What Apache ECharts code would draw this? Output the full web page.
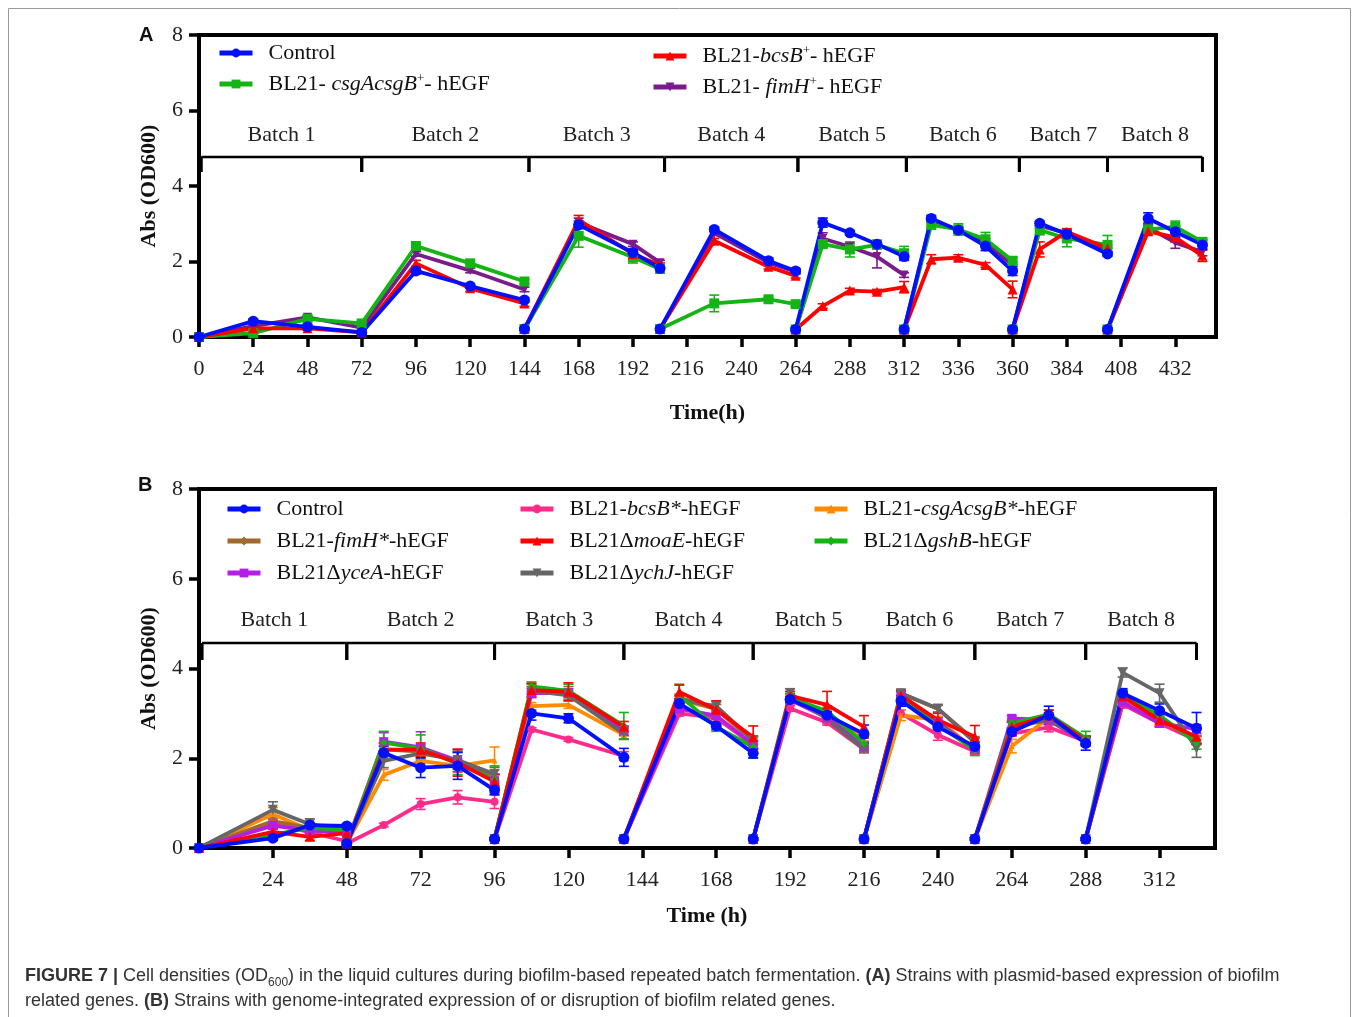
<!DOCTYPE html>
<html>
<head>
<meta charset="utf-8">
<script src="https://cdn.jsdelivr.net/npm/echarts@6/dist/echarts.min.js"></script>
<style>
html,body{margin:0;padding:0;background:#fff;}
#chartBox{width:1358px;height:1017px;}
</style>
</head>
<body>
<div id="chartBox"></div>
<script>
// ---------- panel A : plasmid-based strains ----------
// null = start of a new batch (line break)
const timeA = [0,24,48,72,96,120,144, null, 144,168,192,204, null, 204,228,252,264, null, 264,276,288,300,312, null, 312,324,336,348,360, null, 360,372,384,402, null, 402,420,432,444];
const controlA = [0,0.42,0.27,0.12,1.75,1.35,0.98, null, 0.21,2.97,2.24,1.82, null, 0.21,2.85,2.02,1.75, null, 0.2,3.03,2.76,2.46,2.13, null, 0.2,3.14,2.83,2.41,1.75, null, 0.2,3.01,2.72,2.2, null, 0.2,3.14,2.79,2.44];
const csgA = [0,0.1,0.48,0.36,2.41,1.95,1.47, null, 0.21,2.68,2.11,1.8, null, 0.21,0.89,1.0,0.87, null, 0.2,2.46,2.32,2.44,2.22, null, 0.2,2.97,2.85,2.59,2.02, null, 0.2,2.83,2.61,2.44, null, 0.2,2.85,2.92,2.52];
const bcsA = [0,0.23,0.23,0.12,1.95,1.29,0.89, null, 0.21,3.1,2.2,1.9, null, 0.21,2.55,1.86,1.62, null, 0.2,0.82,1.23,1.2,1.32, null, 0.2,2.06,2.1,1.91,1.26, null, 0.2,2.32,2.79,2.35, null, 0.2,2.8,2.64,2.15];
const fimA = [0,0.29,0.52,0.25,2.2,1.76,1.26, null, 0.21,3.03,2.46,1.97, null, 0.21,2.75,1.97,1.73, null, 0.2,2.61,2.39,2.13,1.64, null, 0.2,3.1,2.83,2.5,1.9, null, 0.2,2.95,2.75,2.3, null, 0.2,2.9,2.5,2.25];
// standard deviations
const controlErrA = [0,0.05,0.05,0.05,0.08,0.06,0.06, null, 0.03,0.1,0.08,0.06, null, 0.03,0.06,0.08,0.06, null, 0.03,0.12,0.06,0.1,0.1, null, 0.03,0.08,0.08,0.12,0.12, null, 0.03,0.06,0.08,0.06, null, 0.03,0.15,0.15,0.12];
const csgErrA = [0,0.05,0.06,0.06,0.08,0.1,0.06, null, 0.03,0.3,0.15,0.06, null, 0.03,0.22,0.05,0.06, null, 0.03,0.08,0.2,0.08,0.18, null, 0.03,0.1,0.15,0.18,0.1, null, 0.03,0.12,0.22,0.25, null, 0.03,0.1,0.15,0.08];
const bcsErrA = [0,0.05,0.05,0.05,0.08,0.08,0.08, null, 0.03,0.12,0.06,0.06, null, 0.03,0.06,0.06,0.06, null, 0.03,0.06,0.06,0.06,0.15, null, 0.03,0.12,0.08,0.06,0.22, null, 0.03,0.2,0.08,0.08, null, 0.03,0.08,0.12,0.15];
const fimErrA = [0,0.04,0.04,0.04,0.06,0.06,0.06, null, 0.03,0.12,0.06,0.06, null, 0.03,0.06,0.06,0.06, null, 0.03,0.15,0.1,0.3,0.06, null, 0.03,0.06,0.06,0.1,0.08, null, 0.03,0.06,0.08,0.06, null, 0.03,0.12,0.15,0.1];
const batchEdgesA = [1, 72, 146, 206, 265, 313, 363, 402, 444];
const xTicksA = [0,24,48,72,96,120,144,168,192,216,240,264,288,312,336,360,384,408,432];

// ---------- panel B : genome-integrated / knockout strains ----------
const timeB = [0,24,36,48, null, 48,60,72,84,96, null, 96,108,120,138, null, 138,156,168,180, null, 180,192,204,216, null, 216,228,240,252, null, 252,264,276,288, null, 288,300,312,324];
const controlB = [0,0.22,0.51,0.49, null, 0.1,2.12,1.79,1.83,1.29, null, 0.2,3.0,2.89,2.02, null, 0.2,3.22,2.72,2.11, null, 0.2,3.31,2.96,2.54, null, 0.2,3.28,2.7,2.26, null, 0.2,2.59,2.96,2.33, null, 0.2,3.45,3.06,2.67];
const bcsB = [0,0.56,0.35,0.15, null, 0.1,0.51,0.98,1.13,1.03, null, 0.2,2.64,2.42,2.05, null, 0.2,3.0,2.9,2.3, null, 0.2,3.11,2.8,2.2, null, 0.2,3.0,2.52,2.15, null, 0.2,2.55,2.69,2.38, null, 0.2,3.2,2.78,2.4];
const csgB = [0,0.75,0.4,0.35, null, 0.1,1.63,1.94,1.83,1.95, null, 0.2,3.16,3.19,2.52, null, 0.2,3.3,3.1,2.35, null, 0.2,3.3,2.95,2.42, null, 0.2,2.96,2.85,2.2, null, 0.2,2.27,2.9,2.38, null, 0.2,3.3,2.85,2.45];
const fimB = [0,0.6,0.45,0.35, null, 0.1,2.2,2.15,1.95,1.6, null, 0.2,3.55,3.5,2.6, null, 0.2,3.35,3.1,2.4, null, 0.2,3.35,2.95,2.3, null, 0.2,3.45,3.1,2.4, null, 0.2,2.7,2.85,2.4, null, 0.2,3.35,2.9,2.4];
const moaB = [0,0.36,0.25,0.33, null, 0.1,2.19,2.19,1.9,1.48, null, 0.2,3.52,3.48,2.7, null, 0.2,3.48,3.08,2.47, null, 0.2,3.39,3.19,2.7, null, 0.2,3.4,2.85,2.48, null, 0.2,2.7,2.95,2.4, null, 0.2,3.38,2.85,2.48];
const gshB = [0,0.3,0.45,0.4, null, 0.1,2.35,2.22,1.88,1.53, null, 0.2,3.6,3.5,2.72, null, 0.2,3.4,2.7,2.25, null, 0.2,3.35,3.05,2.33, null, 0.2,3.3,2.75,2.18, null, 0.2,2.78,2.98,2.45, null, 0.2,3.4,2.95,2.35];
const yceB = [0,0.5,0.39,0.35, null, 0.1,2.37,2.24,1.95,1.5, null, 0.2,3.45,3.45,2.62, null, 0.2,3.1,2.95,2.3, null, 0.2,3.3,2.9,2.25, null, 0.2,3.4,2.8,2.2, null, 0.2,2.89,2.85,2.35, null, 0.2,3.25,2.78,2.65];
const ychB = [0,0.85,0.53,0.4, null, 0.1,1.94,2.11,1.96,1.65, null, 0.2,3.5,3.4,2.55, null, 0.2,3.3,3.16,2.4, null, 0.2,3.45,2.87,2.2, null, 0.2,3.45,3.11,2.35, null, 0.2,2.75,2.85,2.4, null, 0.2,3.91,3.45,2.22];
const controlErrB = [0,0.05,0.05,0.05, null, 0.03,0.15,0.22,0.3,0.1, null, 0.03,0.15,0.1,0.2, null, 0.03,0.1,0.08,0.1, null, 0.03,0.06,0.08,0.2, null, 0.03,0.12,0.08,0.1, null, 0.03,0.08,0.2,0.15, null, 0.03,0.1,0.15,0.35];
const bcsErrB = [0,0.08,0.05,0.05, null, 0.03,0.04,0.12,0.15,0.15, null, 0.03,0.04,0.04,0.1, null, 0.03,0.06,0.08,0.08, null, 0.03,0.06,0.06,0.06, null, 0.03,0.08,0.12,0.06, null, 0.03,0.06,0.1,0.06, null, 0.03,0.08,0.08,0.08];
const csgErrB = [0,0.15,0.06,0.05, null, 0.03,0.12,0.1,0.15,0.3, null, 0.03,0.08,0.08,0.1, null, 0.03,0.08,0.1,0.1, null, 0.03,0.08,0.1,0.1, null, 0.03,0.12,0.08,0.08, null, 0.03,0.15,0.1,0.08, null, 0.03,0.08,0.08,0.1];
const fimErrB = [0,0.1,0.06,0.05, null, 0.03,0.15,0.15,0.2,0.15, null, 0.03,0.1,0.1,0.1, null, 0.03,0.08,0.1,0.08, null, 0.03,0.08,0.08,0.08, null, 0.03,0.08,0.08,0.08, null, 0.03,0.1,0.1,0.08, null, 0.03,0.08,0.1,0.1];
const moaErrB = [0,0.08,0.08,0.06, null, 0.03,0.15,0.15,0.3,0.15, null, 0.03,0.15,0.2,0.12, null, 0.03,0.15,0.2,0.25, null, 0.03,0.1,0.3,0.25, null, 0.03,0.1,0.15,0.25, null, 0.03,0.1,0.12,0.1, null, 0.03,0.12,0.12,0.15];
const gshErrB = [0,0.06,0.06,0.06, null, 0.03,0.25,0.3,0.25,0.3, null, 0.03,0.1,0.15,0.3, null, 0.03,0.25,0.1,0.25, null, 0.03,0.1,0.12,0.15, null, 0.03,0.1,0.1,0.12, null, 0.03,0.1,0.1,0.15, null, 0.03,0.12,0.12,0.15];
const yceErrB = [0,0.08,0.06,0.06, null, 0.03,0.2,0.35,0.25,0.15, null, 0.03,0.1,0.1,0.1, null, 0.03,0.08,0.08,0.1, null, 0.03,0.08,0.08,0.08, null, 0.03,0.08,0.1,0.08, null, 0.03,0.06,0.1,0.08, null, 0.03,0.08,0.08,0.1];
const ychErrB = [0,0.18,0.12,0.06, null, 0.03,0.15,0.15,0.2,0.15, null, 0.03,0.1,0.1,0.12, null, 0.03,0.1,0.1,0.1, null, 0.03,0.1,0.08,0.08, null, 0.03,0.08,0.08,0.1, null, 0.03,0.08,0.08,0.08, null, 0.03,0.1,0.2,0.2];
const batchEdgesB = [1, 48, 96, 138, 180, 216, 252, 288, 324];
const xTicksB = [24,48,72,96,120,144,168,192,216,240,264,288,312];

const batchLabels = ['Batch 1','Batch 2','Batch 3','Batch 4','Batch 5','Batch 6','Batch 7','Batch 8'];

const SERIF = 'Liberation Serif, Times New Roman, serif';
const SANS = 'Liberation Sans, Arial, sans-serif';

// legend text with italics / superscripts
const legendText = {
    'Control': 'Control',
    'BL21-csgAcsgB+-hEGF': 'BL21- {i|csgAcsgB}{s|+}- hEGF',
    'BL21-bcsB+-hEGF': 'BL21-{i|bcsB}{s|+}- hEGF',
    'BL21-fimH+-hEGF': 'BL21- {i|fimH}{s|+}- hEGF',
    'BL21-bcsB*-hEGF': 'BL21-{i|bcsB*}-hEGF',
    'BL21-csgAcsgB*-hEGF': 'BL21-{i|csgAcsgB*}-hEGF',
    'BL21-fimH*-hEGF': 'BL21-{i|fimH*}-hEGF',
    'BL21ΔmoaE-hEGF': 'BL21Δ{i|moaE}-hEGF',
    'BL21ΔgshB-hEGF': 'BL21Δ{i|gshB}-hEGF',
    'BL21ΔyceA-hEGF': 'BL21Δ{i|yceA}-hEGF',
    'BL21ΔychJ-hEGF': 'BL21Δ{i|ychJ}-hEGF'
};

function toLine(times, vals){
    return times.map((t,i)=> t===null ? ['-','-'] : [t, vals[i]]);
}
function toErr(times, vals, errs){
    const out = [];
    times.forEach((t,i)=>{ if(t!==null) out.push([t, vals[i], errs[i]]); });
    return out;
}

function lineSeries(name, times, vals, color, symbol, size, g){
    return {
        name: name, type: 'line', xAxisIndex: g, yAxisIndex: g,
        data: toLine(times, vals),
        connectNulls: false,
        symbol: symbol, symbolSize: size,
        lineStyle: {width: 3.8, color: color},
        itemStyle: {color: color, borderWidth: 0},
        z: 3
    };
}

function errSeries(times, vals, errs, color, g){
    return {
        type: 'custom', xAxisIndex: g, yAxisIndex: g,
        data: toErr(times, vals, errs),
        encode: {x: 0, y: 1},
        silent: true, z: 2,
        renderItem: function(params, api){
            const t = api.value(0), v = api.value(1), e = api.value(2);
            if(!e) return;
            const hi = api.coord([t, v+e]);
            const lo = api.coord([t, v-e]);
            const w = 5;
            const st = {stroke: color, lineWidth: 1.6};
            return {type: 'group', children: [
                {type:'line', shape:{x1:hi[0], y1:hi[1], x2:lo[0], y2:lo[1]}, style: st},
                {type:'line', shape:{x1:hi[0]-w, y1:hi[1], x2:hi[0]+w, y2:hi[1]}, style: st},
                {type:'line', shape:{x1:lo[0]-w, y1:lo[1], x2:lo[0]+w, y2:lo[1]}, style: st}
            ]};
        }
    };
}

// "Batch n" brackets, drawn from the batch boundaries
function batchSeries(edges, g, level, low, labelLevel){
    const data = edges.slice(0,-1).map((s,i)=>[s, edges[i+1], i]);
    return {
        type: 'custom', xAxisIndex: g, yAxisIndex: g,
        data: data, encode: {x: [0,1], y: 2},
        silent: true, clip: false, z: 1,
        renderItem: function(params, api){
            const s = api.value(0), e = api.value(1), i = api.value(2);
            const p0 = api.coord([s, level]);
            const p1 = api.coord([e, level]);
            const yLow = api.coord([s, low])[1];
            const pl = api.coord([(s+e)/2, labelLevel]);
            return {type:'group', children:[
                {type:'line', shape:{x1:p0[0], y1:p0[1], x2:p1[0], y2:p1[1]}, style:{stroke:'#000', lineWidth:2.5}},
                {type:'line', shape:{x1:p0[0], y1:p0[1], x2:p0[0], y2:yLow}, style:{stroke:'#000', lineWidth:3}},
                {type:'line', shape:{x1:p1[0], y1:p1[1], x2:p1[0], y2:yLow}, style:{stroke:'#000', lineWidth:3}},
                {type:'text', x: pl[0], y: pl[1], style:{text: batchLabels[i], fontSize:22, fontFamily:SERIF, fill:'#222', align:'center', verticalAlign:'middle'}}
            ]};
        }
    };
}

function makeLegend(left, top, names, gap){
    return {
        left: left, top: top, orient: 'vertical', padding: 0,
        data: names, itemWidth: 33, itemHeight: 11, itemGap: gap,
        selectedMode: false,
        lineStyle: {width: 5},
        formatter: function(n){ return legendText[n] || n; },
        textStyle: {
            fontFamily: SERIF, fontSize: 22, color: '#111', lineHeight: 24, padding: [0,0,0,11],
            rich: {
                i: {fontFamily: SERIF, fontSize: 22, fontStyle: 'italic', color: '#111', lineHeight: 24},
                s: {fontFamily: SERIF, fontSize: 13, color: '#111', verticalAlign: 'top', lineHeight: 24}
            }
        }
    };
}

function xAxisCfg(g, max, ticks, nameText, nameGap){
    return {
        type: 'value', gridIndex: g, min: 0, max: max,
        name: nameText, nameLocation: 'middle', nameGap: nameGap,
        nameTextStyle: {fontFamily: SERIF, fontSize: 22, fontWeight: 'bold', color: '#111'},
        axisLine: {lineStyle: {color: '#000', width: 4}},
        axisTick: {length: 10, customValues: ticks, lineStyle: {color: '#000', width: 3.5}},
        axisLabel: {customValues: ticks, margin: 21, fontFamily: SERIF, fontSize: 22, color: '#222'},
        splitLine: {show: false}
    };
}
function yAxisCfg(g){
    return {
        type: 'value', gridIndex: g, min: 0, max: 8, interval: 2,
        name: 'Abs (OD600)', nameLocation: 'middle', nameGap: 39,
        nameTextStyle: {fontFamily: SERIF, fontSize: 22, fontWeight: 'bold', color: '#111'},
        axisLine: {show: true, lineStyle: {color: '#000', width: 4}},
        axisTick: {show: true, length: 10, lineStyle: {color: '#000', width: 3.5}},
        axisLabel: {margin: 16, fontFamily: SERIF, fontSize: 22, color: '#222'},
        splitLine: {show: false}
    };
}

const downTri = 'path://M0,0 L10,0 L5,9 Z';

const chartDom = document.getElementById('chartBox');
let myChart = echarts.init(chartDom);

const option = {
    animation: false,
    backgroundColor: '#fff',
    grid: [
        {left: 199, top: 35, width: 1017, height: 302, show: true, borderColor: '#000', borderWidth: 4},
        {left: 199, top: 489, width: 1016, height: 359, show: true, borderColor: '#000', borderWidth: 4}
    ],
    xAxis: [
        xAxisCfg(0, 450, xTicksA, 'Time(h)', 65),
        xAxisCfg(1, 330, xTicksB, 'Time (h)', 57)
    ],
    yAxis: [yAxisCfg(0), yAxisCfg(1)],
    legend: [
        makeLegend(217, 41, ['Control','BL21-csgAcsgB+-hEGF'], 7),
        makeLegend(651, 44, ['BL21-bcsB+-hEGF','BL21-fimH+-hEGF'], 7),
        makeLegend(225, 497, ['Control','BL21-fimH*-hEGF','BL21ΔyceA-hEGF'], 8),
        makeLegend(518, 497, ['BL21-bcsB*-hEGF','BL21ΔmoaE-hEGF','BL21ΔychJ-hEGF'], 8),
        makeLegend(812, 497, ['BL21-csgAcsgB*-hEGF','BL21ΔgshB-hEGF'], 8)
    ],
    graphic: [
        {type:'rect', shape:{x:8.5, y:8.5, width:1342, height:1050}, style:{fill:'none', stroke:'#9a9a9a', lineWidth:1}, silent:true},
        {type:'text', left:139, top:25, style:{text:'A', fontFamily:SANS, fontWeight:'bold', fontSize:20, fill:'#111'}},
        {type:'text', left:138, top:475, style:{text:'B', fontFamily:SANS, fontWeight:'bold', fontSize:20, fill:'#111'}},
        {type:'text', left:25, top:964, style:{
            text: '{b|FIGURE 7 |} Cell densities (OD{sub|600}) in the liquid cultures during biofilm-based repeated batch fermentation. {b|(A)} Strains with plasmid-based expression of biofilm\nrelated genes. {b|(B)} Strains with genome-integrated expression of or disruption of biofilm related genes.',
            fontFamily: SANS, fontSize: 18, fill: '#333', lineHeight: 25,
            rich: {
                b: {fontFamily: SANS, fontWeight: 'bold', fontSize: 18, fill: '#333', lineHeight: 25},
                sub: {fontFamily: SANS, fontSize: 12, fill: '#333', verticalAlign: 'bottom', lineHeight: 20}
            }
        }}
    ],
    series: [
        batchSeries(batchEdgesA, 0, 4.77, 4.37, 5.35),
        batchSeries(batchEdgesB, 1, 4.57, 4.19, 5.08),

        errSeries(timeA, fimA, fimErrA, '#7a1b8c', 0),
        errSeries(timeA, csgA, csgErrA, '#14b414', 0),
        errSeries(timeA, bcsA, bcsErrA, '#ff0000', 0),
        errSeries(timeA, controlA, controlErrA, '#0010ff', 0),
        lineSeries('BL21-fimH+-hEGF', timeA, fimA, '#7a1b8c', downTri, 9, 0),
        lineSeries('BL21-csgAcsgB+-hEGF', timeA, csgA, '#14b414', 'rect', 10, 0),
        lineSeries('BL21-bcsB+-hEGF', timeA, bcsA, '#ff0000', 'triangle', 10, 0),
        lineSeries('Control', timeA, controlA, '#0010ff', 'circle', 11, 0),

        errSeries(timeB, bcsB, bcsErrB, '#ff2a8a', 1),
        errSeries(timeB, csgB, csgErrB, '#ff8c00', 1),
        errSeries(timeB, fimB, fimErrB, '#a0692d', 1),
        errSeries(timeB, yceB, yceErrB, '#b41ee6', 1),
        errSeries(timeB, ychB, ychErrB, '#666666', 1),
        errSeries(timeB, gshB, gshErrB, '#14b414', 1),
        errSeries(timeB, moaB, moaErrB, '#ff0000', 1),
        errSeries(timeB, controlB, controlErrB, '#0010ff', 1),
        lineSeries('BL21-bcsB*-hEGF', timeB, bcsB, '#ff2a8a', 'circle', 8, 1),
        lineSeries('BL21-csgAcsgB*-hEGF', timeB, csgB, '#ff8c00', 'triangle', 6, 1),
        lineSeries('BL21-fimH*-hEGF', timeB, fimB, '#a0692d', 'diamond', 6, 1),
        lineSeries('BL21ΔyceA-hEGF', timeB, yceB, '#b41ee6', 'rect', 9, 1),
        lineSeries('BL21ΔychJ-hEGF', timeB, ychB, '#666666', downTri, 10, 1),
        lineSeries('BL21ΔgshB-hEGF', timeB, gshB, '#14b414', 'diamond', 8, 1),
        lineSeries('BL21ΔmoaE-hEGF', timeB, moaB, '#ff0000', 'triangle', 10, 1),
        lineSeries('Control', timeB, controlB, '#0010ff', 'circle', 11, 1)
    ]
};
myChart.setOption(option);
</script>
</body>
</html>
